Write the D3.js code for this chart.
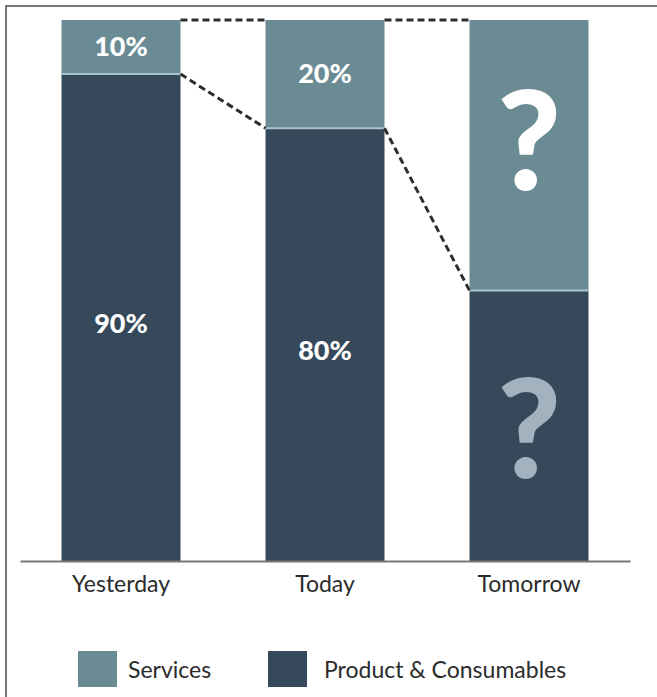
<!DOCTYPE html>
<html>
<head>
<meta charset="utf-8">
<script src="https://cdn.jsdelivr.net/npm/d3@7"></script>
<style>
  body { margin: 0; background: #fff; }
  text { font-family: Lato, "Open Sans", sans-serif; }
</style>
</head>
<body>
<div id="chart"></div>
<script>
// data
var categories = ["Yesterday", "Today", "Tomorrow"];
var services = [10, 20, 50];
var product = [90, 80, 50];
var serviceLabels = ["10%", "20%", "?"];
var productLabels = ["90%", "80%", "?"];
var legendNames = ["Services", "Product & Consumables"];

var W = 657, H = 697;
var colServ = "#6b8b94", colProd = "#36495a";

var svg = d3.select("#chart").append("svg")
  .attr("width", W).attr("height", H);

// frame (top + left edges only)
svg.append("path")
  .attr("d", "M6," + H + "V6H" + W)
  .attr("fill", "none")
  .attr("stroke", "#777")
  .attr("stroke-width", 2);

var x = d3.scaleBand()
  .domain(categories)
  .range([20, 630])
  .paddingInner(0.4167)
  .paddingOuter(0.2034);

var y = d3.scaleLinear().domain([0, 100]).range([561, 20]);

var rows = categories.map(function(c, i){
  return {cat: c, prod: product[i], serv: services[i], pl: productLabels[i], sl: serviceLabels[i]};
});

var g = svg.selectAll(".bar").data(rows).enter().append("g").attr("class", "bar");

// product (bottom)
g.append("rect")
  .attr("x", function(d){ return x(d.cat); })
  .attr("width", x.bandwidth())
  .attr("y", function(d){ return y(d.prod); })
  .attr("height", function(d){ return y(0) - y(d.prod); })
  .attr("fill", colProd);

// services (top)
g.append("rect")
  .attr("x", function(d){ return x(d.cat); })
  .attr("width", x.bandwidth())
  .attr("y", function(d){ return y(d.prod + d.serv); })
  .attr("height", function(d){ return y(d.prod) - y(d.prod + d.serv); })
  .attr("fill", colServ);

// light divider between segments
g.append("line")
  .attr("x1", function(d){ return x(d.cat); })
  .attr("x2", function(d){ return x(d.cat) + x.bandwidth(); })
  .attr("y1", function(d){ return y(d.prod); })
  .attr("y2", function(d){ return y(d.prod); })
  .attr("stroke", "#a8c3ce")
  .attr("stroke-width", 2);

// dashed connectors
var links = [];
for (var i = 0; i < rows.length - 1; i++) {
  var a = rows[i], b = rows[i + 1];
  links.push([x(a.cat) + x.bandwidth(), y(a.prod + a.serv), x(b.cat), y(b.prod + b.serv)]);
  links.push([x(a.cat) + x.bandwidth(), y(a.prod), x(b.cat), y(b.prod)]);
}
svg.selectAll(".link").data(links).enter().append("line")
  .attr("x1", function(d){ return d[0]; })
  .attr("y1", function(d){ return d[1]; })
  .attr("x2", function(d){ return d[2]; })
  .attr("y2", function(d){ return d[3]; })
  .attr("stroke", "#2e2e2e")
  .attr("stroke-width", 3)
  .attr("stroke-dasharray", "7,4");

// value labels
function isQ(s){ return s === "?"; }
g.append("text")
  .attr("x", function(d){ return x(d.cat) + x.bandwidth()/2; })
  .attr("y", function(d){ return (y(d.prod) + y(d.prod + d.serv))/2 + (isQ(d.sl) ? 35 : 9); })
  .attr("text-anchor", "middle")
  .attr("font-weight", 900)
  .attr("font-size", function(d){ return isQ(d.sl) ? 138 : 27; })
  .attr("fill", "#fff")
  .text(function(d){ return d.sl; });

g.append("text")
  .attr("x", function(d){ return x(d.cat) + x.bandwidth()/2; })
  .attr("y", function(d){ return (y(0) + y(d.prod))/2 + (isQ(d.pl) ? 52 : 15); })
  .attr("text-anchor", "middle")
  .attr("font-weight", 900)
  .attr("font-size", function(d){ return isQ(d.pl) ? 138 : 27; })
  .attr("fill", function(d){ return isQ(d.pl) ? "#a2b2bf" : "#fff"; })
  .text(function(d){ return d.pl; });

// axis
var axis = svg.append("g")
  .attr("transform", "translate(0," + y(0) + ")")
  .call(d3.axisBottom(x).tickSize(0).tickPadding(15));
axis.select(".domain").attr("stroke", "#777").attr("stroke-width", 2);
axis.selectAll("text")
  .attr("font-size", 23)
  .attr("fill", "#2b2b2b")
  .style("font-family", "Lato, sans-serif");

// legend
var legX = [78, 268];
var leg = svg.selectAll(".leg").data(legendNames).enter().append("g")
  .attr("transform", function(d, i){ return "translate(" + legX[i] + ",651)"; });
leg.append("rect")
  .attr("width", 39).attr("height", 36)
  .attr("fill", function(d, i){ return i === 0 ? colServ : colProd; });
leg.append("text")
  .attr("x", function(d, i){ return i === 0 ? 50 : 56; })
  .attr("y", 27)
  .attr("font-size", 23)
  .attr("fill", "#2b2b2b")
  .text(function(d){ return d; });
</script>
</body>
</html>
